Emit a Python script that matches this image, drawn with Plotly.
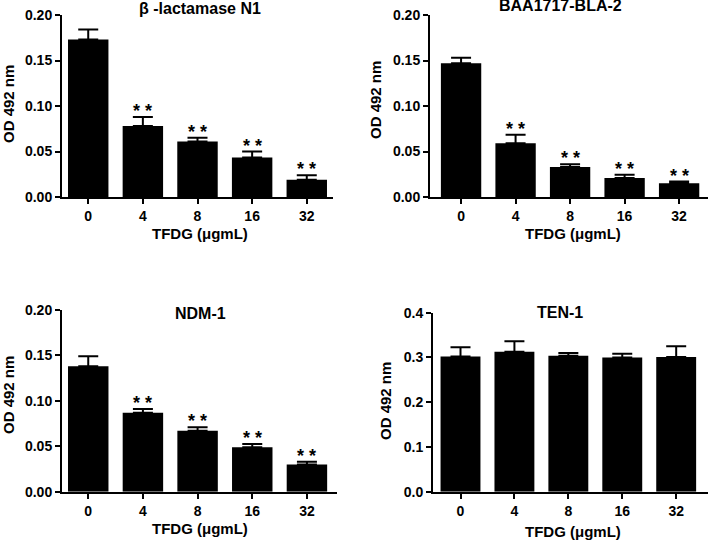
import plotly.graph_objects as go

doses = ["0", "4", "8", "16", "32"]

titles = ["\u03b2 -lactamase N1", "BAA1717-BLA-2", "NDM-1", "TEN-1"]

mean_n1 = [0.173, 0.078, 0.061, 0.0435, 0.019]
sd_n1 = [0.011, 0.010, 0.004, 0.0065, 0.005]
sig_n1 = ["", "**", "**", "**", "**"]

mean_bla2 = [0.147, 0.059, 0.033, 0.021, 0.015]
sd_bla2 = [0.006, 0.0095, 0.003, 0.0035, 0.002]
sig_bla2 = ["", "**", "**", "**", "**"]

mean_ndm1 = [0.138, 0.087, 0.067, 0.049, 0.030]
sd_ndm1 = [0.011, 0.004, 0.004, 0.0035, 0.003]
sig_ndm1 = ["", "**", "**", "**", "**"]

mean_ten1 = [0.302, 0.313, 0.304, 0.300, 0.301]
sd_ten1 = [0.021, 0.023, 0.006, 0.008, 0.024]
sig_ten1 = ["", "", "", "", ""]

y_ticks_small = [0.00, 0.05, 0.10, 0.15, 0.20]
y_ticks_large = [0.0, 0.1, 0.2, 0.3, 0.4]

x_label = "TFDG (\u03bcgmL)"
y_label = "OD 492 nm"

W, H = 709, 541
FONT = "Liberation Sans, Arial, sans-serif"

panels = [
    dict(mean=mean_n1, sd=sd_n1, sig=sig_n1, title=titles[0],
         xdom=(62, 333), ydom=(197, 15), xr=(-0.48, 4.48), yr=(0, 0.2), ticks=y_ticks_small, fmt=".2f",
         title_pos=(200, 9), ylab_pos=(8, 104), xlab_pos=(200, 233)),
    dict(mean=mean_bla2, sd=sd_bla2, sig=sig_bla2, title=titles[1],
         xdom=(430, 708), ydom=(197, 15), xr=(-0.57, 4.53), yr=(0, 0.2), ticks=y_ticks_small, fmt=".2f",
         title_pos=(560, 5), ylab_pos=(375, 100), xlab_pos=(573, 233)),
    dict(mean=mean_ndm1, sd=sd_ndm1, sig=sig_ndm1, title=titles[2],
         xdom=(62, 337), ydom=(491.7, 310), xr=(-0.48, 4.55), yr=(0, 0.2), ticks=y_ticks_small, fmt=".2f",
         title_pos=(200, 313), ylab_pos=(8, 395), xlab_pos=(200, 528)),
    dict(mean=mean_ten1, sd=sd_ten1, sig=sig_ten1, title=titles[3],
         xdom=(433, 708), ydom=(491.7, 312.7), xr=(-0.51, 4.59), yr=(0, 0.4), ticks=y_ticks_large, fmt=".1f",
         title_pos=(560, 312), ylab_pos=(385, 401), xlab_pos=(573, 531)),
]

positions = list(range(len(doses)))

fig = go.Figure()
annotations = []
layout = {}

for i, p in enumerate(panels, start=1):
    xa = "x" if i == 1 else f"x{i}"
    ya = "y" if i == 1 else f"y{i}"
    fig.add_trace(go.Bar(
        x=positions, y=p["mean"], xaxis=xa, yaxis=ya,
        marker=dict(color="black", line=dict(width=0)),
        width=0.74,
        error_y=dict(type="data", array=p["sd"], arrayminus=[0] * len(p["sd"]),
                     symmetric=False, color="black", thickness=2, width=10),
        showlegend=False, hoverinfo="skip",
    ))
    axis_common = dict(showline=True, linecolor="black", linewidth=2, ticks="outside",
                       ticklen=5, tickwidth=2, tickcolor="black", showgrid=False, zeroline=False,
                       automargin=False,
                       tickfont=dict(family=FONT, size=14, color="black", weight="bold"))
    layout["xaxis" if i == 1 else f"xaxis{i}"] = dict(
        domain=[p["xdom"][0] / W, p["xdom"][1] / W], anchor=ya, range=list(p["xr"]),
        tickvals=positions, ticktext=doses, **axis_common)
    layout["yaxis" if i == 1 else f"yaxis{i}"] = dict(
        domain=[1 - p["ydom"][0] / H, 1 - p["ydom"][1] / H], anchor=xa, range=list(p["yr"]),
        tickvals=p["ticks"], tickformat=p["fmt"], **axis_common)
    # significance marks
    for x, m, s, t in zip(positions, p["mean"], p["sd"], p["sig"]):
        if t:
            annotations.append(dict(x=x, y=m + s, xref=xa, yref=ya, text=" ".join(t), showarrow=False,
                                    yanchor="bottom", yshift=-6,
                                    font=dict(family=FONT, size=18, color="black", weight="bold")))
    # titles
    annotations.append(dict(x=p["title_pos"][0] / W, y=1 - p["title_pos"][1] / H, xref="paper", yref="paper",
                            text=p["title"], showarrow=False, xanchor="center", yanchor="middle",
                            font=dict(family=FONT, size=16, color="black", weight="bold")))
    annotations.append(dict(x=p["ylab_pos"][0] / W, y=1 - p["ylab_pos"][1] / H, xref="paper", yref="paper",
                            text=y_label, showarrow=False, xanchor="center", yanchor="middle", textangle=-90,
                            font=dict(family=FONT, size=15, color="black", weight="bold")))
    annotations.append(dict(x=p["xlab_pos"][0] / W, y=1 - p["xlab_pos"][1] / H, xref="paper", yref="paper",
                            text=x_label, showarrow=False, xanchor="center", yanchor="middle",
                            font=dict(family=FONT, size=15, color="black", weight="bold")))

fig.update_layout(
    width=W, height=H, margin=dict(l=0, r=0, t=0, b=0),
    paper_bgcolor="white", plot_bgcolor="white",
    annotations=annotations, **layout,
)

fig.write_html("out.html", config={"displayModeBar": False},
               post_script="document.body.style.margin='0';document.body.style.overflow='hidden';")
